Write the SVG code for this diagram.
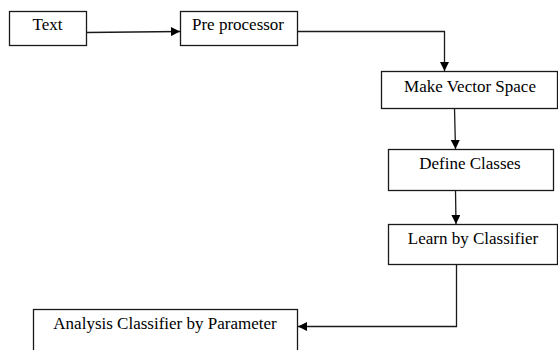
<svg xmlns="http://www.w3.org/2000/svg" width="558" height="350" viewBox="0 0 558 350">
<style>
.box{fill:#fff;stroke:#1a1a1a;stroke-width:1.3}
.lbl{font-family:"Liberation Serif","Times New Roman",serif;font-size:17px;fill:#000;text-anchor:middle}
.edge{fill:none;stroke:#1a1a1a;stroke-width:1.3}
</style>
<defs>
<marker id="ah" viewBox="0 0 10 10" refX="10" refY="5" markerWidth="9" markerHeight="9" markerUnits="userSpaceOnUse" orient="auto">
<path d="M0,0 L10,5 L0,10 Z" fill="#000"/>
</marker>
</defs>
<rect width="558" height="350" fill="#fff"/>
<g id="n-text"><rect class="box" x="9.5" y="11.5" width="77" height="34"/><text class="lbl" x="47.5" y="30">Text</text></g>
<g id="n-pre"><rect class="box" x="180.5" y="11.5" width="117" height="34"/><text class="lbl" x="238" y="30">Pre processor</text></g>
<g id="n-mvs"><rect class="box" x="381.5" y="71.5" width="176" height="37"/><text class="lbl" x="470" y="92">Make Vector Space</text></g>
<g id="n-def"><rect class="box" x="388.5" y="149.5" width="165" height="41"/><text class="lbl" x="470" y="169">Define Classes</text></g>
<g id="n-learn"><rect class="box" x="388.5" y="224.5" width="169" height="40"/><text class="lbl" x="473" y="244">Learn by Classifier</text></g>
<g id="n-anal"><rect class="box" x="33.5" y="309.5" width="264" height="45"/><text class="lbl" x="165" y="329">Analysis Classifier by Parameter</text></g>
<g id="edges">
<path class="edge" d="M86.5,32.5 L180,31.5" marker-end="url(#ah)"/>
<path class="edge" d="M297.5,31.5 H444.5 V71" marker-end="url(#ah)"/>
<path class="edge" d="M454.5,108.5 L455.5,149" marker-end="url(#ah)"/>
<path class="edge" d="M455.5,190.5 L456,224" marker-end="url(#ah)"/>
<path class="edge" d="M456.5,264.5 V326.5 H298" marker-end="url(#ah)"/>
</g>
</svg>
